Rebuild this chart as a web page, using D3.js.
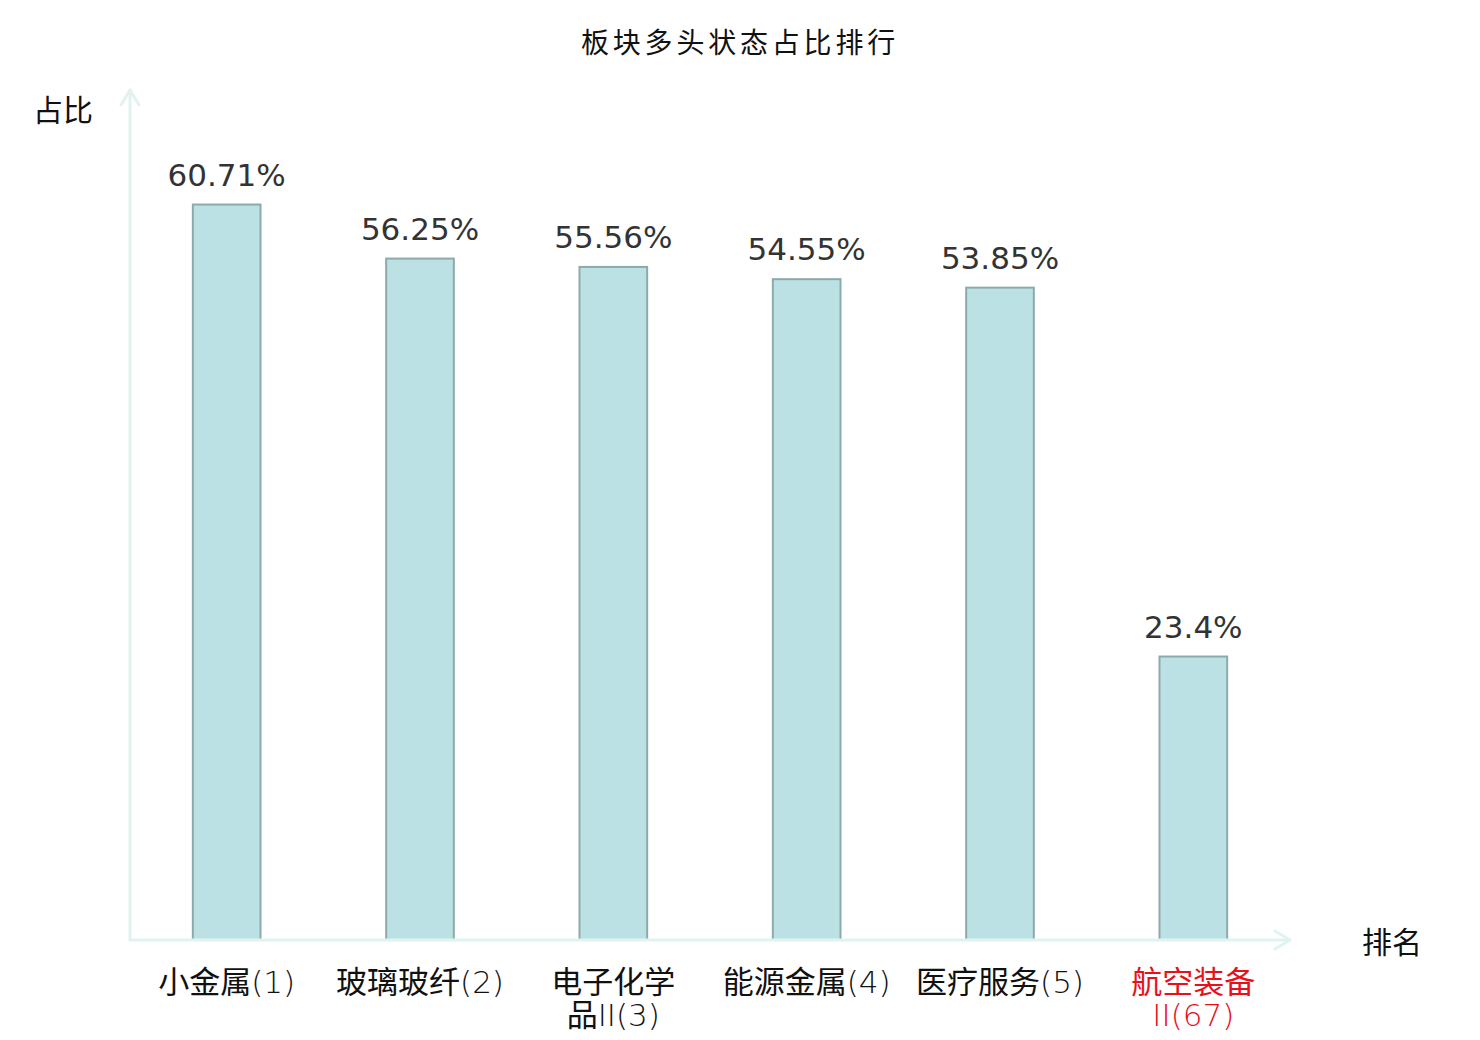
<!DOCTYPE html>
<html>
<head>
<meta charset="utf-8">
<script src="https://cdn.jsdelivr.net/npm/d3@7"></script>
<style>
  body { margin: 0; background: #fff; }
  svg { display: block; }
</style>
</head>
<body>
<svg id="chart" width="1480" height="1040"></svg>
<script>
// chart data
const categories = ["小金属", "玻璃玻纤", "电子化学品II", "能源金属", "医疗服务", "航空装备II"];
const ranks = [1, 2, 3, 4, 5, 67];
const values = [60.71, 56.25, 55.56, 54.55, 53.85, 23.4];
const highlightRank = 67;

const WIDTH = 1480, HEIGHT = 1040;
const PLOT_LEFT = 130, PLOT_RIGHT = 1290, PLOT_BOTTOM = 940, PLOT_TOP = 92;
const CJK = "'Noto Sans CJK SC', 'Noto Sans', sans-serif";
const AXIS_COLOR = "#e0f3f1";

const svg = d3.select("#chart");

const x = d3.scaleBand()
  .domain(categories)
  .range([PLOT_LEFT, PLOT_RIGHT])
  .padding(0);

const y = d3.scaleLinear()
  .domain([0, 70])
  .range([PLOT_BOTTOM, PLOT_TOP]);

const barWidth = x.bandwidth() * 0.35;

// title
svg.append("text")
  .attr("x", WIDTH / 2)
  .attr("y", 53)
  .attr("text-anchor", "middle")
  .style("font-family", CJK)
  .style("font-size", "28px")
  .style("letter-spacing", "3.8px")
  .style("fill", "#111")
  .text("板块多头状态占比排行");

// bars
svg.append("g")
  .selectAll("rect")
  .data(categories)
  .enter()
  .append("rect")
  .attr("x", (d) => x(d) + (x.bandwidth() - barWidth) / 2)
  .attr("y", (d, i) => y(values[i]))
  .attr("width", barWidth)
  .attr("height", (d, i) => y(0) - y(values[i]))
  .attr("fill", "#bce1e4")
  .attr("stroke", "#8daaab")
  .attr("stroke-width", 2);

// value labels
svg.append("g")
  .selectAll("text")
  .data(categories)
  .enter()
  .append("text")
  .attr("x", (d) => x(d) + x.bandwidth() / 2)
  .attr("y", (d, i) => y(values[i]) - 19)
  .attr("text-anchor", "middle")
  .style("font-family", "'DejaVu Sans', sans-serif")
  .style("font-size", "31px")
  .style("fill", "#333")
  .text((d, i) => values[i] + "%");

// axes (lines with open arrow heads)
const axis = svg.append("g")
  .attr("fill", "none")
  .attr("stroke", AXIS_COLOR)
  .attr("stroke-width", 3)
  .attr("stroke-linecap", "round")
  .attr("stroke-linejoin", "round");

axis.append("line")
  .attr("x1", PLOT_LEFT).attr("y1", PLOT_BOTTOM)
  .attr("x2", PLOT_LEFT).attr("y2", PLOT_TOP - 2);
axis.append("path")
  .attr("d", `M${PLOT_LEFT - 9},${PLOT_TOP + 13}L${PLOT_LEFT},${PLOT_TOP - 2}L${PLOT_LEFT + 9},${PLOT_TOP + 13}`);

axis.append("line")
  .attr("x1", PLOT_LEFT).attr("y1", PLOT_BOTTOM)
  .attr("x2", PLOT_RIGHT).attr("y2", PLOT_BOTTOM);
axis.append("path")
  .attr("d", `M${PLOT_RIGHT - 15},${PLOT_BOTTOM - 9}L${PLOT_RIGHT},${PLOT_BOTTOM}L${PLOT_RIGHT - 15},${PLOT_BOTTOM + 9}`);

// axis names
svg.append("text")
  .attr("x", 63)
  .attr("y", 121)
  .attr("text-anchor", "middle")
  .style("font-family", CJK)
  .style("font-size", "30px")
  .style("fill", "#111")
  .text("占比");

svg.append("text")
  .attr("x", 1392)
  .attr("y", 953)
  .attr("text-anchor", "middle")
  .style("font-family", CJK)
  .style("font-size", "30px")
  .style("fill", "#111")
  .text("排名");

// category labels: names longer than 4 characters wrap after the 4th
function labelLines(name, rank) {
  const full = name + "(" + rank + ")";
  if (name.length <= 4) return [full];
  return [full.slice(0, 4), full.slice(4)];
}

// split a line into CJK and latin runs (latin drawn in a light face)
function runs(line) {
  return line.match(/[\u4e00-\u9fff]+|[^\u4e00-\u9fff]+/g);
}

const catLabels = svg.append("g")
  .selectAll("g")
  .data(categories)
  .enter()
  .append("g")
  .style("fill", (d, i) => ranks[i] === highlightRank ? "#e8101a" : "#111");

catLabels.each(function (d, i) {
  const lines = labelLines(d, ranks[i]);
  d3.select(this)
    .selectAll("text")
    .data(lines)
    .enter()
    .append("text")
    .attr("x", x(d) + x.bandwidth() / 2)
    .attr("y", (l, j) => 993 + j * 33)
    .attr("text-anchor", "middle")
    .style("font-size", "31px")
    .selectAll("tspan")
    .data((l) => runs(l))
    .enter()
    .append("tspan")
    .style("font-family", (r) => /[\u4e00-\u9fff]/.test(r) ? CJK : "'DejaVu Sans', sans-serif")
    .style("font-weight", (r) => /[\u4e00-\u9fff]/.test(r) ? 400 : 200)
    .text((r) => r);
});
</script>
</body>
</html>
